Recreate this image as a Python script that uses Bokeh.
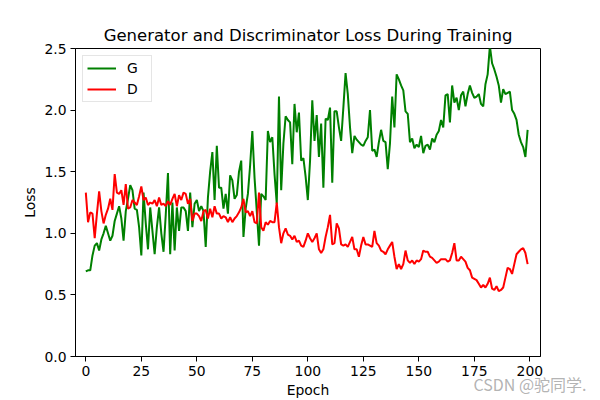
from bokeh.plotting import figure
from bokeh.embed import file_html
from bokeh.resources import INLINE
from bokeh.models import FixedTicker, NumeralTickFormatter, Legend, LegendItem, Title, Range1d

epochs = list(range(200))

G_losses = [
    0.69, 0.70, 0.70, 0.82, 0.90, 0.92, 0.86, 0.95, 1.00, 1.06,
    1.00, 0.94, 0.98, 1.10, 1.16, 1.22, 1.12, 0.94, 1.18, 1.28,
    1.39, 1.35, 1.20, 1.19, 1.05, 0.82, 1.33, 1.08, 0.87, 1.21,
    1.02, 0.83, 1.05, 1.21, 1.00, 0.85, 1.15, 1.49, 0.83, 1.25,
    0.86, 1.21, 1.02, 1.21, 1.21, 1.18, 1.02, 1.33, 1.05, 1.24,
    1.27, 1.18, 1.22, 1.18, 0.89, 1.29, 1.50, 1.66, 1.27, 1.71,
    1.37, 1.37, 1.20, 1.32, 1.16, 1.47, 1.43, 1.28, 1.31, 1.50,
    1.59, 0.97, 1.20, 1.32, 1.55, 1.83, 1.45, 1.18, 0.90, 1.32,
    1.30, 1.27, 1.83, 1.74, 1.78, 1.48, 1.24, 2.11, 1.35, 1.73,
    1.95, 1.92, 1.90, 1.56, 2.05, 1.82, 1.98, 1.59, 1.61, 1.46,
    1.27, 1.59, 2.08, 1.75, 1.96, 1.62, 1.89, 1.37, 1.93, 1.92,
    2.02, 1.41, 1.99, 1.99, 1.86, 1.75, 2.02, 2.30, 2.13, 1.86,
    1.65, 1.79, 1.76, 1.74, 1.72, 1.71, 1.75, 1.78, 2.00, 1.67,
    1.68, 1.62, 1.74, 1.84, 1.75, 1.74, 1.52, 1.73, 2.11, 1.86,
    2.29, 2.25, 2.20, 2.16, 1.99, 1.97, 1.74, 1.77, 1.69, 1.72,
    1.70, 1.79, 1.65, 1.71, 1.72, 1.68, 1.77, 1.74, 1.80, 1.83,
    1.92, 1.86, 2.12, 2.13, 1.90, 2.20, 2.06, 2.10, 2.00, 2.12,
    2.15, 2.03, 2.13, 2.20, 2.14, 2.10, 2.11, 2.13, 2.05, 2.03,
    2.21, 2.29, 2.52, 2.38, 2.33, 2.27, 2.20, 2.06, 2.17, 2.13,
    2.14, 2.15, 2.00, 1.97, 1.92, 1.80, 1.74, 1.70, 1.62, 1.84,
]

D_losses = [
    1.33, 1.09, 1.17, 1.16, 0.96, 1.16, 1.34, 1.18, 1.08, 1.15,
    1.20, 1.28, 1.19, 1.48, 1.33, 1.32, 1.35, 1.23, 1.40, 1.20,
    1.21, 1.27, 1.25, 1.23, 1.30, 1.38, 1.27, 1.29, 1.23, 1.25,
    1.24, 1.27, 1.22, 1.29, 1.23, 1.24, 1.22, 1.26, 1.23, 1.28,
    1.32, 1.22, 1.31, 1.27, 1.33, 1.32, 1.24, 1.28, 1.10, 1.16,
    1.16, 1.14, 1.10, 1.18, 1.19, 1.12, 1.20, 1.13, 1.22, 1.16,
    1.16, 1.12, 1.14, 1.13, 1.09, 1.13, 1.09, 1.12, 1.14, 1.17,
    1.21, 1.28, 1.17, 1.18, 1.14, 1.18, 1.09, 1.08, 1.33, 1.05,
    1.02, 1.09, 1.07, 1.10, 1.09, 1.09, 1.25, 1.05, 0.92, 1.00,
    1.04, 0.99, 0.98, 0.95, 0.98, 0.93, 0.94, 0.90, 0.89, 0.94,
    1.00, 0.96, 0.93, 0.96, 1.00, 0.87, 0.84, 0.87, 0.97, 1.05,
    1.15, 0.91, 0.92, 1.08, 1.04, 0.91, 0.90, 0.91, 0.89, 0.93,
    0.97, 0.87, 0.87, 0.81, 0.90, 0.97, 0.91, 0.91, 0.90, 0.89,
    1.02, 0.92, 0.90, 0.86, 0.85, 0.83, 0.87, 0.90, 0.93, 0.81,
    0.71, 0.75, 0.71, 0.75, 0.86, 0.78, 0.76, 0.78, 0.75, 0.78,
    0.77, 0.79, 0.86, 0.85, 0.85, 0.81, 0.80, 0.78, 0.76, 0.77,
    0.79, 0.79, 0.79, 0.77, 0.78, 0.84, 0.92, 0.78, 0.78, 0.81,
    0.79, 0.77, 0.72, 0.70, 0.64, 0.63, 0.62, 0.59, 0.56, 0.58,
    0.56, 0.59, 0.64, 0.55, 0.54, 0.57, 0.53, 0.54, 0.56, 0.64,
    0.72, 0.71, 0.67, 0.75, 0.83, 0.85, 0.87, 0.88, 0.84, 0.75,
]

x_ticks = [0, 25, 50, 75, 100, 125, 150, 175, 200]
y_ticks = [0.0, 0.5, 1.0, 1.5, 2.0, 2.5]

FONT = "DejaVu Sans"

p = figure(frame_width=465, frame_height=308, output_backend="svg", toolbar_location=None,
           x_range=Range1d(-4.65, 204.8), y_range=Range1d(0, 2.5),
           min_border_left=75, min_border_right=60, min_border_top=48, min_border_bottom=44,
           title="Generator and Discriminator Loss During Training")

p.title.text_font = FONT
p.title.text_font_size = "16.5px"
p.title.text_font_style = "normal"
p.title.text_color = "black"
p.title.align = "center"
p.title.standoff = 8

p.outline_line_color = "black"
p.outline_line_alpha = 1
p.outline_line_width = 1
p.xgrid.visible = False
p.ygrid.visible = False
p.background_fill_color = "white"
p.border_fill_color = "white"

for ax in (p.xaxis[0], p.yaxis[0]):
    ax.axis_line_color = "black"
    ax.major_tick_line_color = "black"
    ax.major_tick_out = 5
    ax.major_tick_in = 0
    ax.minor_tick_line_color = None
    ax.major_label_text_font = FONT
    ax.major_label_text_font_size = "13.9px"
    ax.major_label_text_color = "black"
    ax.axis_label_text_font = FONT
    ax.axis_label_text_font_size = "13.9px"
    ax.axis_label_text_font_style = "normal"
    ax.axis_label_text_color = "black"
    ax.major_label_standoff = 4
    ax.axis_label_standoff = 3

p.xaxis.ticker = FixedTicker(ticks=x_ticks)
p.yaxis.ticker = FixedTicker(ticks=y_ticks)
p.yaxis.formatter = NumeralTickFormatter(format="0.0")
p.xaxis.axis_label = "Epoch"
p.yaxis.axis_label = "Loss"

g = p.line(epochs, G_losses, line_color="green", line_width=2)
d = p.line(epochs, D_losses, line_color="red", line_width=2)

legend = Legend(items=[LegendItem(label="G", renderers=[g]), LegendItem(label="D", renderers=[d])],
                location="top_left")
legend.margin = 7
legend.padding = 4
legend.spacing = 5
legend.glyph_width = 29
legend.glyph_height = 16
legend.label_height = 16
legend.label_standoff = 11
legend.label_text_font = FONT
legend.label_text_font_size = "13.9px"
legend.label_text_color = "black"
legend.border_line_color = "#cccccc"
legend.border_line_width = 1
legend.background_fill_alpha = 0.8
p.add_layout(legend)

wm = Title(text="CSDN @驼同学.", align="left", vertical_align="top", offset=398, standoff=-58,
           text_font="Noto Sans CJK SC", text_font_size="16px", text_font_style="normal",
           text_color="#aaaaaa", text_alpha=0.9)
p.add_layout(wm, "below")

open("out.html", "w").write(file_html(p, INLINE))
